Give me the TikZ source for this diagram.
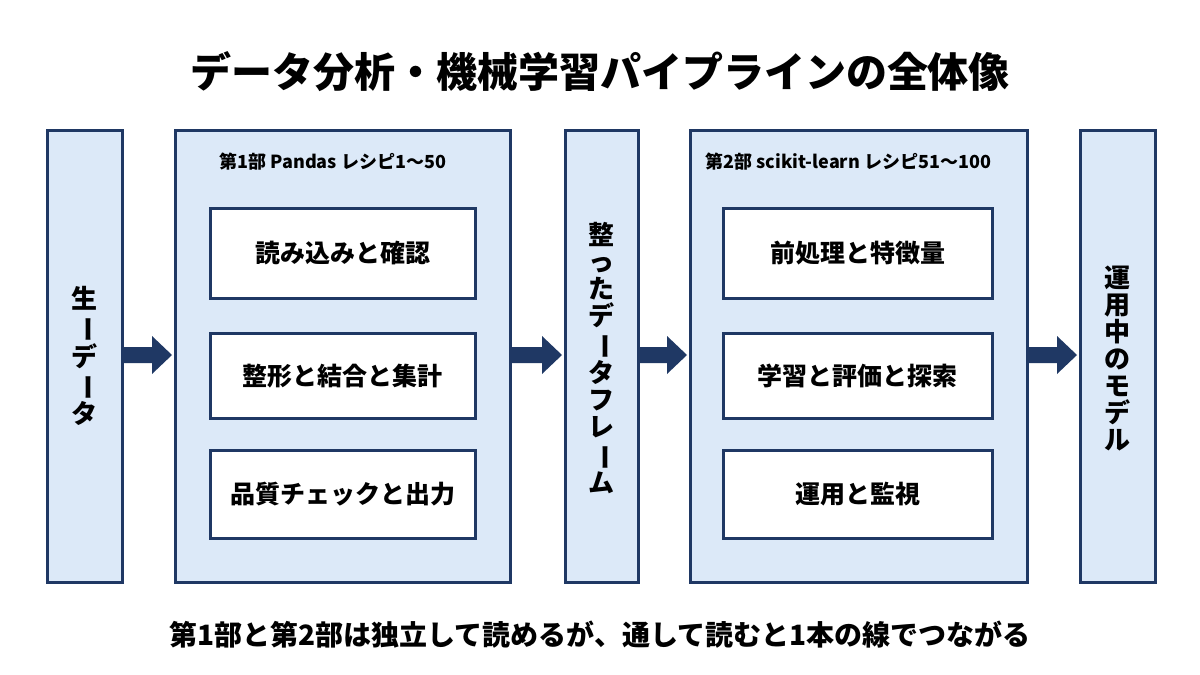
\documentclass[tikz,border=0pt]{standalone}
\usepackage{fontspec}
\setmainfont{Noto Sans CJK JP}
\usetikzlibrary{arrows.meta}
\definecolor{navy}{HTML}{1F3864}
\definecolor{lb}{HTML}{DCE9F8}
\newcommand{\vbar}{\rotatebox[origin=c]{-90}{ー}}
\tikzset{
  outer/.style={draw=navy,fill=lb,line width=3pt},
  inner/.style={draw=navy,fill=white,line width=3pt},
  itxt/.style={font=\fontsize{25}{28}\selectfont\bfseries},
  vtxt/.style={font=\fontsize{26}{27}\selectfont\bfseries,align=center},
  lab/.style={font=\fontsize{18}{22}\selectfont\bfseries,anchor=west},
}
\newcommand{\fatarrow}[2]{%
  \fill[navy] (#1,347) -- ({#2-20},347) -- ({#2-20},336) -- (#2,355) -- ({#2-20},374) -- ({#2-20},363) -- (#1,363) -- cycle;}
\begin{document}
\begin{tikzpicture}[x=1pt,y=-1pt]
\useasboundingbox[fill=white] (0,0) rectangle (1200,675);
\node[font=\fontsize{41}{46}\selectfont\bfseries] (title) at (600,72) {データ分析・機械学習パイプラインの全体像};
\draw[outer] (47,130) rectangle (122,582);
\node[vtxt] (raw) at (84.5,356) {生\\\vbar\\デ\\\vbar\\タ};
\draw[outer] (175,130) rectangle (510,582);
\node[lab] (p1) at (216,162) {第1部 Pandas レシピ1〜50};
\draw[inner] (210,208) rectangle (475,298); \node[itxt] (a1) at (342.5,253) {読み込みと確認};
\draw[inner] (210,333) rectangle (475,418); \node[itxt] (a2) at (342.5,376) {整形と結合と集計};
\draw[inner] (210,450) rectangle (475,538); \node[itxt] (a3) at (342.5,494) {品質チェックと出力};
\draw[outer] (565,130) rectangle (638,582);
\node[vtxt] (df) at (601.5,358) {整\\っ\\た\\デ\\\vbar\\タ\\フ\\レ\\\vbar\\ム};
\draw[outer] (690,130) rectangle (1027,582);
\node[lab] (p2) at (702,162) {第2部 scikit-learn レシピ51〜100};
\draw[inner] (723,208) rectangle (992,298); \node[itxt] (b1) at (857.5,253) {前処理と特徴量};
\draw[inner] (723,333) rectangle (992,418); \node[itxt] (b2) at (857.5,376) {学習と評価と探索};
\draw[inner] (723,450) rectangle (992,538); \node[itxt] (b3) at (857.5,494) {運用と監視};
\draw[outer] (1080,130) rectangle (1155,582);
\node[vtxt] (model) at (1117.5,358) {運\\用\\中\\の\\モ\\デ\\ル};
\fatarrow{122}{172}
\fatarrow{510}{562}
\fatarrow{638}{687}
\fatarrow{1027}{1077}
\node[font=\fontsize{28}{32}\selectfont\bfseries] (foot) at (600,635) {第1部と第2部は独立して読めるが、通して読むと1本の線でつながる};
\end{tikzpicture}
\end{document}
